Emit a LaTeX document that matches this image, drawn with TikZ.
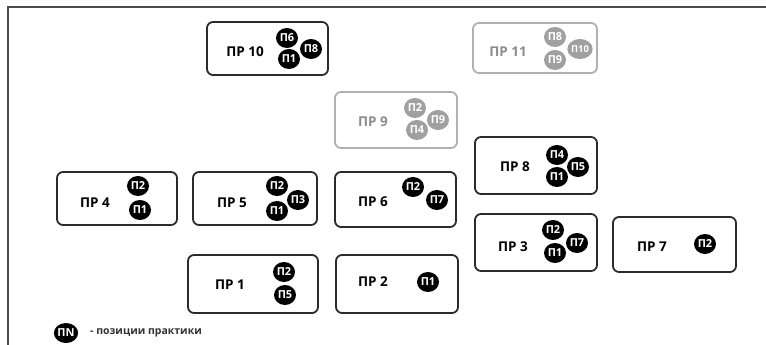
\documentclass[tikz,border=0pt]{standalone}
\usepackage{fontspec}
\setmainfont{Open Sans}
\usetikzlibrary{shapes.geometric}
\definecolor{boxc}{HTML}{2B2B2B}
\definecolor{gboxc}{HTML}{B0B0B0}
\definecolor{gfill}{HTML}{A0A0A0}
\definecolor{gtext}{HTML}{8C8C8C}
\tikzset{
  prbox/.style={draw=boxc, line width=1.8pt, rounded corners=6pt, inner sep=0pt},
  gprbox/.style={prbox, draw=gboxc},
  lbl/.style={font=\bfseries\fontsize{13.5}{14}\selectfont, text=black, inner sep=0pt},
  glbl/.style={lbl, text=gtext},
  pc/.style={ellipse, fill=black, minimum width=22pt, minimum height=20pt, inner sep=0pt,
     text=white, font=\bfseries\fontsize{11}{11}\selectfont},
  gpc/.style={pc, fill=gfill},
  small/.style={font=\bfseries\fontsize{9.5}{10}\selectfont},
  legtext/.style={font=\bfseries\fontsize{10.5}{11}\selectfont, text=black!80, anchor=west, inner sep=0pt},
}
\begin{document}
\begin{tikzpicture}[x=1pt, y=-1pt]
\useasboundingbox (0,0) rectangle (766,345);
\fill[white] (0,0) rectangle (766,345);
% frame
\draw[boxc!85, line width=1.5pt] (8,345) -- (8,7) -- (766,7);

% ПР 10
\node[prbox, minimum width=121pt, minimum height=53pt] (b10) at (267.5,48.5) {};
\node[lbl] (l10) at (245,52) {ПР 10};
\node[pc] (b10p6) at (287,38) {П6};
\node[pc] (b10p1) at (289,59) {П1};
\node[pc] (b10p8) at (311,49) {П8};

% ПР 11
\node[gprbox, minimum width=124pt, minimum height=50pt] (b11) at (535,48) {};
\node[glbl] (l11) at (508,52) {ПР 11};
\node[gpc] (b11p8) at (555,37) {П8};
\node[gpc] (b11p9) at (555,60) {П9};
\node[gpc, small] (b11p10) at (580,49) {П10};

% ПР 9
\node[gprbox, minimum width=122pt, minimum height=56pt] (b9) at (396,120) {};
\node[glbl] (l9) at (373,122) {ПР 9};
\node[gpc] (b9p2) at (415,108) {П2};
\node[gpc] (b9p4) at (417,130) {П4};
\node[gpc] (b9p9) at (438,120) {П9};

% ПР 4
\node[prbox, minimum width=120pt, minimum height=53pt] (b4) at (117,198.5) {};
\node[lbl] (l4) at (95,203) {ПР 4};
\node[pc] (b4p2) at (138,186) {П2};
\node[pc] (b4p1) at (140,210) {П1};

% ПР 5
\node[prbox, minimum width=124pt, minimum height=53pt] (b5) at (255,198.5) {};
\node[lbl] (l5) at (232,203) {ПР 5};
\node[pc] (b5p2) at (277,186) {П2};
\node[pc] (b5p1) at (277,211) {П1};
\node[pc] (b5p3) at (298,200) {П3};

% ПР 6
\node[prbox, minimum width=121pt, minimum height=55pt] (b6) at (395.5,199.5) {};
\node[lbl] (l6) at (373,202) {ПР 6};
\node[pc] (b6p2) at (413,187) {П2};
\node[pc] (b6p7) at (437,200) {П7};

% ПР 8
\node[prbox, minimum width=122pt, minimum height=57pt] (b8) at (536,165.5) {};
\node[lbl] (l8) at (515,167) {ПР 8};
\node[pc] (b8p4) at (557,155) {П4};
\node[pc] (b8p1) at (557,177) {П1};
\node[pc] (b8p5) at (578,167) {П5};

% ПР 1
\node[prbox, minimum width=130pt, minimum height=58pt] (b1) at (253,284) {};
\node[lbl] (l1) at (230,285) {ПР 1};
\node[pc] (b1p2) at (284,272) {П2};
\node[pc] (b1p5) at (285,295) {П5};

% ПР 2
\node[prbox, minimum width=122pt, minimum height=58pt] (b2) at (397,284) {};
\node[lbl] (l2) at (373,282) {ПР 2};
\node[pc] (b2p1) at (428,282) {П1};

% ПР 3
\node[prbox, minimum width=122pt, minimum height=57pt] (b3) at (536,242.5) {};
\node[lbl] (l3) at (513,247) {ПР 3};
\node[pc] (b3p2) at (553,230) {П2};
\node[pc] (b3p1) at (555,253) {П1};
\node[pc] (b3p7) at (577,243) {П7};

% ПР 7
\node[prbox, minimum width=123pt, minimum height=55pt] (b7) at (674.5,244.5) {};
\node[lbl] (l7) at (652,247) {ПР 7};
\node[pc] (b7p2) at (705,244) {П2};

% legend
\node[pc] (legc) at (66,333) {ПN};
\node[legtext] (legt) at (90,333) {- позиции практики};
\end{tikzpicture}
\end{document}
